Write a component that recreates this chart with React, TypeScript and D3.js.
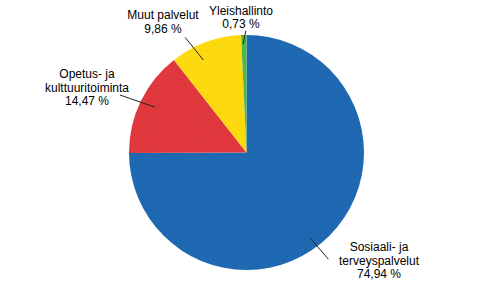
import React from "react";
import * as d3 from "d3";

const categories = ["Sosiaali- ja terveyspalvelut", "Opetus- ja kulttuuritoiminta", "Muut palvelut", "Yleishallinto"];
const values = [74.94, 14.47, 9.86, 0.73];
const labelLines = [
  ["Sosiaali- ja", "terveyspalvelut", "74,94 %"],
  ["Opetus- ja", "kulttuuritoiminta", "14,47 %"],
  ["Muut palvelut", "9,86 %"],
  ["Yleishallinto", "0,73 %"],
];
const colors = ["#1f69b3", "#e0383c", "#fdd90f", "#4cb848"];
const dotColors = ["#1a4aa0", "#b82a40", "#e6bf00", "#3a9a3a"];

// layout
const W = 493, H = 304;
const cx = 246.5, cy = 152.5, R = 117.5;
const labelPos = [
  { x: 379, y: 251 },
  { x: 87, y: 78 },
  { x: 163, y: 19 },
  { x: 241, y: 14.5 },
];
// leader: angle offset (deg) from mid-angle, inner & outer radius
const leader = [
  { off: 8.5, ri: 106.5, ro: 134.5, off2: 7.6 },
  { off: 0.5, ri: 102, ro: 139, off2: -1.4 },
  { off: -4.6, ri: 102, ro: 130.6, off2: -7.7 },
  { off: -0.4, ri: 108.5, ro: 121.8, off2: 1 },
];

export default function App() {
  const pie = d3.pie<number>().sort(null).value((d) => d)(values);
  const arc = d3.arc<d3.PieArcDatum<number>>().innerRadius(0).outerRadius(R);
  const polar = (aDeg: number, r: number) => {
    const a = (aDeg * Math.PI) / 180;
    return [cx + r * Math.sin(a), cy - r * Math.cos(a)];
  };
  return (
    <svg width={W} height={H} style={{ position: "absolute", left: 0, top: 0 }} fontFamily="'Liberation Sans', Arial, sans-serif" fontSize={12}>
      <defs>
        {colors.map((c, i) => (
          <pattern key={i} id={`p${i}`} width={14} height={14} patternUnits="userSpaceOnUse">
            <rect width={14} height={14} fill={c} />
            <rect x={2} y={2} width={1} height={1} fill={dotColors[i]} />
            <rect x={9} y={9} width={1} height={1} fill={dotColors[i]} />
            <rect x={9} y={3} width={1} height={1} fill={dotColors[i]} opacity={0.6} />
            <rect x={3} y={10} width={1} height={1} fill={dotColors[i]} opacity={0.6} />
          </pattern>
        ))}
      </defs>
      <rect width={W} height={H} fill="#fff" />
      <g transform={`translate(${cx},${cy})`}>
        {pie.map((d, i) => (
          <path key={categories[i]} d={arc(d) || ""} fill={`url(#p${i})`} />
        ))}
      </g>
      {pie.map((d, i) => {
        const mid = (((d.startAngle + d.endAngle) / 2) * 180) / Math.PI;
        const [x1, y1] = polar(mid + leader[i].off, leader[i].ri);
        const [x2, y2] = polar(mid + leader[i].off2, leader[i].ro);
        return <line key={i} x1={x1} y1={y1} x2={x2} y2={y2} stroke="#222" strokeWidth={1} />;
      })}
      {labelLines.map((lines, i) => (
        <text key={i} x={labelPos[i].x} y={labelPos[i].y} textAnchor="middle" fill="#000">
          {lines.map((t, j) => (
            <tspan key={j} x={labelPos[i].x} dy={j === 0 ? 0 : 13.6}>{t}</tspan>
          ))}
        </text>
      ))}
    </svg>
  );
}
